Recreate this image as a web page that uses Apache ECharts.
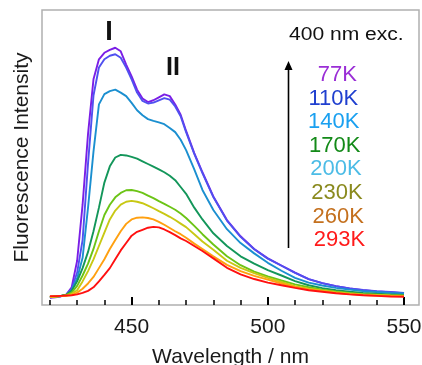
<!DOCTYPE html>
<html>
<head>
<meta charset="utf-8">
<script src="https://cdn.jsdelivr.net/npm/echarts@6/dist/echarts.min.js"></script>
<style>
  html, body { margin: 0; padding: 0; background: #fff; }
  #chart { width: 422px; height: 365px; }
</style>
</head>
<body>
<div id="chart"></div>
<script>
// wavelength grid (nm)
const wavelength = [420,422,424,426,428,430,432,434,436,438,440,442,444,446,448,450,452,454,456,458,460,462,464,466,468,470,473,476,480,485,490,495,500,505,510,515,520,525,530,535,540,545,550];

// fluorescence intensity (arb. units) per temperature
const i77K  = [2.4,2.6,2.9,3.5,6,15,34,58,76.5,83.3, 85.5,86.5,87.2,86,81.5,77.5,73,70,68.8,69.4, 70.4,71.4,70.8,68,64.5,59, 51.5,45,36.8, 28.8,23.3,19,15.8,13.4,11,8.8,7.4,6.4,5.6,5,4.6,4.3,4.0];
const i110K = [2.6,2.8,3.0,3.5,5.5,11,22,48,71,80.5, 83.3,84.5,85,83.8,80.5,76.5,72,69.2,68.3,68.6, 69.4,70.1,69.6,67.3,64,58.6, 51.2,44.7,36.6, 28.6,23.1,18.9,15.7,13.3,10.9,8.8,7.4,6.4,5.6,5.1,4.7,4.4,4.1];
const i140K = [2.6,2.8,3.0,3.4,5,9,16,33,52,68, 71.5,72.5,73,72,70.8,68.5,66,64.3,63,62.4, 61.9,61.3,60,58.6,56,52.5, 46,39,32.2, 25.7,21,17.5,14.3,11.6,9.2,7.6,6.6,5.8,5.2,4.7,4.4,4.1,3.9];
const i170K = [2.7,2.9,3.1,3.5,4.8,8,12.5,18,25,33, 41.5,47,50,50.9,50.7,50.2,49.6,48.7,47.8,46.9, 46,45,43.8,42.3,40,37.7, 33,29,24.3, 20,16.5,14,11.8,10,8.1,6.7,5.7,5,4.5,4.1,3.8,3.6,3.4];
const i200K = [2.7,2.9,3.1,3.4,4.2,6.5,10,14,19,25, 30.5,34,36.5,38,38.9,39,38.6,38,37.1,36.2, 35.2,34.3,33.3,32.3,31,29.5, 26.8,24,20.5, 16.5,13.5,11.3,9.7,8.3,7,6,5.2,4.6,4.1,3.7,3.5,3.3,3.2];
const i230K = [2.7,2.9,3.0,3.2,3.8,5,8,11.5,15.5,20, 24.5,29,32,34,35,35.3,35,34.5,33.7,32.8, 31.8,30.9,29.9,28.8,27.6,26.4, 24,21.5,18.7, 15,12.6,10.8,9.2,7.8,6.4,5.5,4.9,4.3,3.9,3.6,3.4,3.2,3.1];
const i260K = [2.8,2.9,3.0,3.1,3.4,4.2,5.5,7.3,9.5,12.5, 15.5,19,22,25,27.5,29,29.6,29.7,29.5,29, 28.2,27.2,26.1,25,24,22.8, 20.8,19,16.5, 13.6,11.5,9.9,8.6,7.3,6.1,5.3,4.7,4.1,3.7,3.4,3.2,3.1,3.0];
const i293K = [3.0,3.0,3.1,3.2,3.3,3.6,4.1,4.8,6,8, 10.2,12.5,15.5,18.5,21,23.5,24.8,25.5,26.2,26.5, 26.3,25.6,24.7,23.7,22.6,21.7, 20,18.3,15.8, 12.6,10.4,8.8,7.6,6.7,5.8,5.0,4.5,4.0,3.6,3.3,3.1,2.9,2.8];

const temps = ['77K','110K','140K','170K','200K','230K','260K','293K'];
const intensities = [i77K, i110K, i140K, i170K, i200K, i230K, i260K, i293K];
const lineColors = ['#7a1ee6','#5050f0','#1b8fd0','#13965a','#6cc416','#c8c814','#ffa010','#ff1010'];
const labelColors = ['#9a2ed6','#1f3fcf','#1aa0f0','#138a18','#4cbce6','#8a8a1e','#c4701e','#ff1a1a'];

const majorTicks = [450, 500, 550];
const minorTicks = [420,430,440,460,470,480,490,510,520,530,540];

const FONT = '"Liberation Sans", Arial, sans-serif';
const chart = echarts.init(document.getElementById('chart'));

const tempTexts = temps.map((t, i) => ({
  type: 'text',
  x: 357 + i * 1.15,
  y: 75 + i * 23.6,
  style: {
    text: t, fill: labelColors[i], font: '22px ' + FONT,
    align: 'right', textAlign: 'right', verticalAlign: 'middle', textVerticalAlign: 'middle'
  }
}));

chart.setOption({
  animation: false,
  grid: {
    left: 42, right: 3, top: 10, bottom: 60,
    show: true, borderColor: '#b0b0b0', borderWidth: 1.5,
    containLabel: false, outerBoundsMode: 'none'
  },
  xAxis: [{
    type: 'value', min: 417.1, max: 555.5,
    name: 'Wavelength / nm', nameLocation: 'middle', nameGap: 42,
    nameTextStyle: { fontSize: 21, color: '#1a1a1a', fontFamily: FONT },
    axisLine: { show: false },
    axisTick: { show: true, inside: true, length: 8, customValues: majorTicks, lineStyle: { color: '#000', width: 2 } },
    axisLabel: { customValues: majorTicks, fontSize: 21, color: '#1a1a1a', fontFamily: FONT, margin: 12 },
    splitLine: { show: false }
  }, {
    type: 'value', min: 417.1, max: 555.5, position: 'bottom',
    axisLine: { show: false },
    axisTick: { show: true, inside: true, length: 5, customValues: minorTicks, lineStyle: { color: '#000', width: 1.5 } },
    axisLabel: { show: false },
    splitLine: { show: false }
  }],
  yAxis: {
    type: 'value', min: 0, max: 100,
    name: 'Fluorescence Intensity', nameLocation: 'middle', nameGap: 9,
    nameTextStyle: { fontSize: 21, color: '#1a1a1a', fontFamily: FONT },
    axisLine: { show: false }, axisTick: { show: false }, axisLabel: { show: false },
    splitLine: { show: false }
  },
  series: temps.map((t, i) => ({
    name: t, type: 'line', xAxisIndex: 0, symbol: 'none',
    lineStyle: { color: lineColors[i], width: 1.9 },
    data: wavelength.map((w, k) => [w, intensities[i][k]])
  })),
  graphic: [
    { type: 'text', x: 109, y: 33, style: { text: 'I', fill: '#111', font: 'bold 27px ' + FONT, align: 'center', textAlign: 'center', verticalAlign: 'middle', textVerticalAlign: 'middle' } },
    { type: 'text', x: 173, y: 68, style: { text: 'II', fill: '#111', font: 'bold 25px ' + FONT, align: 'center', textAlign: 'center', verticalAlign: 'middle', textVerticalAlign: 'middle' } },
    { type: 'text', x: 289, y: 35, scaleX: 1.17, style: { text: '400 nm exc.', fill: '#111', font: '18px ' + FONT, align: 'left', textAlign: 'left', verticalAlign: 'middle', textVerticalAlign: 'middle' } },
    { type: 'line', shape: { x1: 288.5, y1: 248, x2: 288.5, y2: 68 }, style: { stroke: '#000', lineWidth: 1.6 } },
    { type: 'polygon', shape: { points: [[288.5, 61], [284.5, 70], [292.5, 70]] }, style: { fill: '#000' } }
  ].concat(tempTexts)
});
</script>
</body>
</html>
